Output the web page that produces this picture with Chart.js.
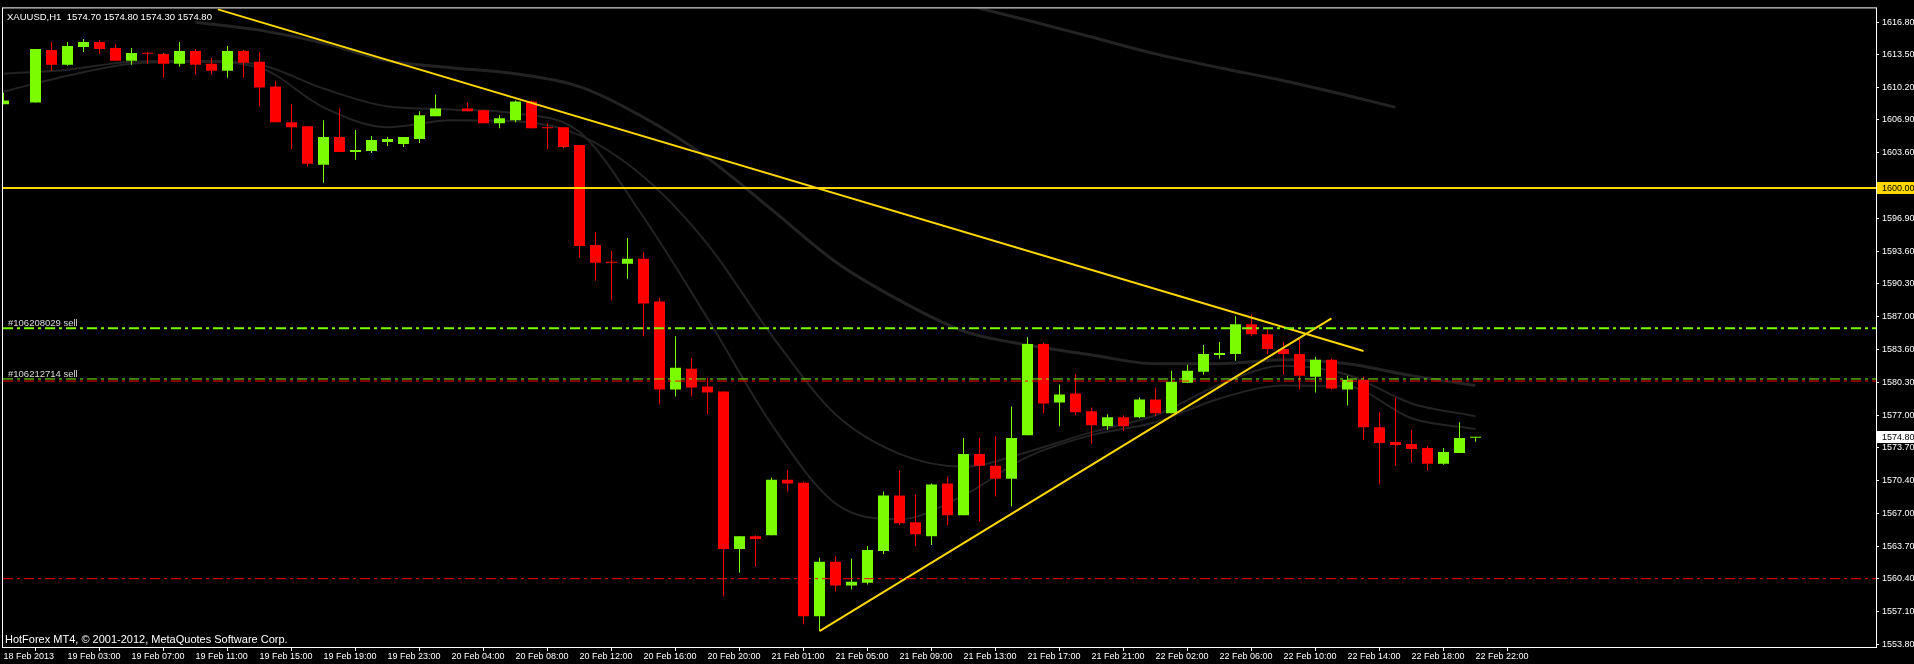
<!DOCTYPE html>
<html>
<head>
<meta charset="utf-8">
<title>XAUUSD,H1</title>
<script src="https://cdn.jsdelivr.net/npm/chart.js@4.4.1/dist/chart.umd.min.js"></script>
<style>
  html, body { margin: 0; padding: 0; background: #000; overflow: hidden; }
  #wrap { width: 1914px; height: 664px; }
</style>
</head>
<body>
<div id="wrap"><canvas id="goldChart"></canvas></div>
<script>
// XAUUSD hourly bars, oldest on the left
var symbol = 'XAUUSD';
var period = 'H1';

var opens = [1608.48,1608.70,1608.68,1613.99,1612.49,1614.29,1614.79,1614.19,1612.89,1613.69,
  1613.59,1612.59,1613.89,1612.59,1611.89,1613.89,1612.79,1610.28,1606.67,1606.27,
  1602.36,1605.17,1603.66,1603.76,1604.66,1604.46,1604.96,1607.27,1608.07,1608.07,
  1607.87,1606.57,1606.87,1608.78,1606.17,1606.17,1604.36,1594.23,1592.50,1592.33,
  1592.83,1588.52,1579.59,1581.70,1579.89,1579.39,1563.44,1564.74,1564.84,1570.46,
  1570.16,1556.62,1562.14,1559.73,1560.03,1563.24,1568.86,1566.15,1564.74,1570.06,
  1566.85,1573.07,1571.87,1570.56,1574.97,1584.20,1578.28,1579.19,1577.38,1575.88,
  1576.78,1576.78,1578.59,1577.18,1580.29,1581.39,1583.10,1583.20,1586.21,1585.20,
  1583.70,1583.20,1580.89,1582.60,1579.59,1580.59,1575.78,1574.27,1574.07,1573.67,
  1572.07,1573.17,1574.70];

var highs = [1609.65,1608.90,1614.09,1614.79,1614.79,1615.09,1614.99,1614.59,1614.19,1613.79,
  1613.69,1614.79,1614.09,1613.19,1614.39,1613.99,1613.79,1610.88,1608.48,1606.27,
  1606.87,1608.07,1605.87,1605.27,1605.17,1605.17,1607.77,1609.48,1608.30,1608.68,
  1607.97,1607.37,1608.88,1608.88,1606.57,1606.17,1604.36,1595.54,1593.63,1594.93,
  1593.53,1588.92,1585.00,1582.80,1580.79,1579.39,1564.74,1564.84,1570.66,1571.46,
  1570.26,1562.54,1562.74,1562.44,1563.74,1569.26,1571.36,1568.96,1570.06,1570.76,
  1574.67,1574.67,1574.87,1577.88,1584.90,1584.30,1580.09,1581.19,1577.78,1577.08,
  1576.98,1578.79,1579.79,1581.49,1582.10,1584.10,1584.40,1587.01,1587.21,1585.81,
  1584.40,1584.70,1582.90,1582.70,1580.99,1580.89,1577.28,1578.79,1575.48,1573.87,
  1573.67,1576.28,1574.80];

var lows = [1608.48,1608.50,1608.68,1611.89,1612.39,1613.79,1613.59,1612.89,1612.49,1612.59,
  1611.18,1612.29,1611.48,1611.48,1611.18,1611.18,1608.27,1606.67,1603.96,1602.16,
  1600.55,1603.66,1602.86,1603.56,1604.26,1604.16,1604.56,1607.27,1607.90,1607.77,
  1606.57,1606.07,1606.67,1606.07,1603.96,1604.06,1592.93,1590.62,1588.62,1590.82,
  1585.00,1578.08,1578.89,1578.89,1577.08,1558.63,1561.03,1561.63,1564.84,1569.26,
  1555.82,1555.12,1559.13,1559.33,1559.83,1562.94,1565.85,1563.74,1563.84,1565.85,
  1566.85,1566.25,1568.76,1567.75,1574.97,1577.18,1575.88,1576.98,1574.07,1575.48,
  1575.38,1576.68,1576.88,1577.18,1580.29,1581.09,1582.70,1582.50,1585.00,1583.20,
  1581.09,1579.59,1579.29,1579.59,1577.98,1574.47,1569.96,1571.87,1572.17,1571.36,
  1571.97,1573.17,1574.30];

var closes = [1608.88,1608.70,1614.09,1612.49,1614.39,1614.79,1614.09,1612.89,1613.69,1613.60,
  1612.59,1613.89,1612.49,1611.89,1613.89,1612.69,1610.18,1606.67,1606.17,1602.46,
  1605.17,1603.66,1603.86,1604.86,1604.96,1605.17,1607.37,1608.07,1608.07,1607.77,
  1606.57,1607.07,1608.78,1606.07,1606.07,1604.16,1594.13,1592.43,1592.43,1592.83,
  1588.31,1579.59,1581.80,1579.79,1579.29,1563.44,1564.74,1564.44,1570.46,1570.06,
  1556.62,1562.14,1559.73,1560.13,1563.34,1568.86,1566.05,1564.94,1569.96,1566.85,
  1573.07,1571.87,1570.56,1574.67,1584.20,1578.18,1579.09,1577.28,1575.98,1576.78,
  1575.88,1578.59,1577.18,1580.39,1581.49,1583.20,1583.30,1586.21,1585.20,1583.70,
  1583.20,1580.99,1582.60,1579.69,1580.59,1575.78,1574.17,1573.97,1573.57,1572.07,
  1573.27,1574.67,1574.80];

// time labels, one every 4 bars
var timeLabels = ['18 Feb 2013', '19 Feb 03:00', '19 Feb 07:00', '19 Feb 11:00', '19 Feb 15:00',
  '19 Feb 19:00', '19 Feb 23:00', '20 Feb 04:00', '20 Feb 08:00', '20 Feb 12:00', '20 Feb 16:00',
  '20 Feb 20:00', '21 Feb 01:00', '21 Feb 05:00', '21 Feb 09:00', '21 Feb 13:00', '21 Feb 17:00',
  '21 Feb 21:00', '22 Feb 02:00', '22 Feb 06:00', '22 Feb 10:00', '22 Feb 14:00', '22 Feb 18:00',
  '22 Feb 22:00'];

var priceTicks = [1616.8, 1613.5, 1610.2, 1606.9, 1603.6, 1596.9, 1593.6, 1590.3, 1587.0, 1583.6,
  1580.3, 1577.0, 1573.7, 1570.4, 1567.0, 1563.7, 1560.4, 1557.1, 1553.8];

// moving averages, read every 4th bar
var maBars = [0, 4, 8, 12, 16, 20, 24, 28, 32, 36, 40, 44, 48, 52, 56, 60, 64, 68, 72, 76, 80, 84, 88, 92];
var maFast = [1611.58, 1611.99, 1612.79, 1612.89, 1612.49, 1610.08, 1608.27, 1607.97, 1607.57, 1605.67,
  1597.04, 1586.81, 1576.08, 1568.05, 1566.45, 1568.86, 1572.77, 1574.97, 1576.28, 1578.69,
  1579.99, 1579.89, 1576.68, 1575.58];
var maMid = [1609.78, 1611.38, 1612.59, 1612.79, 1612.19, 1608.17, 1606.17, 1606.87, 1606.77, 1605.37,
  1601.15, 1594.33, 1585.11, 1577.08, 1573.07, 1571.77, 1573.27, 1575.28, 1576.98, 1580.09,
  1582.00, 1581.09, 1578.18, 1576.88];
var maSlow = [null, null, null, 1616.80, 1616.00, 1614.69, 1612.89, 1612.19, 1611.58, 1610.28,
  1607.17, 1603.06, 1597.84, 1592.53, 1588.62, 1585.51, 1584.10, 1583.10, 1582.20, 1582.20,
  1582.60, 1582.20, 1581.00, 1579.99];
var maLongBars = [60, 64, 68, 72, 76, 80, 84, 87];
var maLong = [1618.61, 1617.00, 1615.30, 1613.59, 1612.19, 1610.88, 1609.38, 1608.17];

// drawn objects: trend lines [bar, price], horizontal levels
var downTrendBars = [13.4, 85.0];
var downTrendPrices = [1618.10, 1583.50];
var upTrendBars = [51.0, 83.0];
var upTrendPrices = [1555.12, 1586.81];
var roundLevel = 1600.00;
var orderNames = ['#106208029 sell', '#106212714 sell'];
var orderPrices = [1585.81, 1580.66];
var redLevels = [1580.45, 1560.43];

var BULL = '#7CFC00';
var BEAR = '#FF0000';
var GOLD = '#FFD700';
var MA_GREY = '#232323';
var FONT = '"Liberation Sans", Arial, sans-serif';

var xMin = -0.03125, xMax = 117.03125;

var bars = opens.map(function(_, i) { return i; });
var colours = bars.map(function(i) {
  if (closes[i] > opens[i]) return BULL;
  if (closes[i] < opens[i]) return BEAR;
  return 'rgba(0,0,0,0)'; // flat bar, line graph colour is none
});

function maLine(xs, values, width) {
  return {
    type: 'line',
    data: xs.map(function(b, j) { return { x: b, y: values[j] }; }),
    borderColor: MA_GREY,
    borderWidth: width,
    pointRadius: 0,
    cubicInterpolationMode: 'monotone',
    spanGaps: false,
    order: 3
  };
}

function levelLine(price, colour, width, dash) {
  return {
    type: 'line',
    data: [{ x: xMin, y: price }, { x: xMax, y: price }],
    borderColor: colour,
    borderWidth: width,
    borderDash: dash,
    pointRadius: 0,
    order: 0
  };
}

function trendLine(xs, prices) {
  return {
    type: 'line',
    data: xs.map(function(b, j) { return { x: b, y: prices[j] }; }),
    borderColor: GOLD,
    borderWidth: 2,
    pointRadius: 0,
    order: 0
  };
}

var datasets = [
  {
    type: 'bar',
    data: bars.map(function(i) { return { x: i, y: [lows[i], highs[i]] }; }),
    backgroundColor: colours,
    barThickness: 1,
    grouped: false,
    inflateAmount: 0,
    minBarLength: 1,
    order: 2
  },
  {
    type: 'bar',
    data: bars.map(function(i) { return { x: i, y: [opens[i], closes[i]] }; }),
    backgroundColor: colours,
    barThickness: 11,
    grouped: false,
    inflateAmount: 0,
    minBarLength: 1,
    order: 1
  },
  maLine(maBars, maFast, 2),
  maLine(maBars, maMid, 2),
  maLine(maBars, maSlow, 3),
  maLine(maLongBars, maLong, 3),
  levelLine(roundLevel, GOLD, 2, []),
  levelLine(orderPrices[0], BULL, 2, [10, 4, 3, 4]),
  levelLine(orderPrices[1], BULL, 1, [10, 4, 3, 4]),
  levelLine(redLevels[0], BEAR, 1, [10, 4, 3, 4]),
  levelLine(redLevels[1], BEAR, 1, [10, 4, 3, 4]),
  trendLine(downTrendBars, downTrendPrices),
  trendLine(upTrendBars, upTrendPrices)
];

// frame, captions and price tags like the terminal draws them
var terminalOverlay = {
  id: 'terminalOverlay',
  afterDraw: function(chart) {
    var ctx = chart.ctx;
    var a = chart.chartArea;
    var ys = chart.scales.y;
    var last = closes.length - 1;
    ctx.save();

    ctx.strokeStyle = '#ffffff';
    ctx.lineWidth = 1;
    ctx.strokeRect(a.left - 0.5, a.top - 0.5, a.right - a.left + 1, a.bottom - a.top + 1);

    ctx.textAlign = 'left';
    ctx.textBaseline = 'alphabetic';
    ctx.fillStyle = '#ffffff';
    ctx.font = '9.5px ' + FONT;
    var title = symbol + ',' + period + '  ' + opens[last].toFixed(2) + ' ' + highs[last].toFixed(2) +
      ' ' + lows[last].toFixed(2) + ' ' + closes[last].toFixed(2);
    ctx.fillText(title, a.left + 4, a.top + 12);

    ctx.fillStyle = '#dcdcdc';
    orderNames.forEach(function(name, j) {
      ctx.fillText(name, a.left + 5, ys.getPixelForValue(orderPrices[j]) - 2);
    });

    ctx.fillStyle = '#ffffff';
    ctx.font = '11px ' + FONT;
    ctx.fillText('HotForex MT4, \u00a9 2001-2012, MetaQuotes Software Corp.', a.left + 2, a.bottom - 4);

    // price tags on the axis
    ctx.font = '9px ' + FONT;
    ctx.textBaseline = 'middle';
    var tags = [[roundLevel, GOLD], [closes[last], '#ffffff']];
    tags.forEach(function(t) {
      var y = Math.round(ys.getPixelForValue(t[0]));
      ctx.fillStyle = t[1];
      ctx.fillRect(a.right + 1, y - 6, chart.width - a.right - 1, 12);
      ctx.fillStyle = '#000000';
      ctx.fillText(t[0].toFixed(2), a.right + 6, y + 0.5);
    });
    ctx.restore();
  }
};

new Chart(document.getElementById('goldChart').getContext('2d'), {
  type: 'bar',
  data: { datasets: datasets },
  options: {
    responsive: true,
    maintainAspectRatio: false,
    animation: false,
    events: [],
    layout: { padding: { left: 3, top: 2, right: 0, bottom: 0 } },
    plugins: {
      legend: { display: false },
      tooltip: { enabled: false }
    },
    scales: {
      x: {
        type: 'linear',
        min: xMin,
        max: xMax,
        offset: false,
        grid: { drawOnChartArea: false, drawTicks: true, tickLength: 4, color: '#ffffff' },
        border: { display: false },
        ticks: {
          color: '#ffffff',
          font: { family: FONT, size: 9 },
          align: 'start',
          padding: 0,
          maxRotation: 0,
          autoSkip: false,
          callback: function(value, index) { return timeLabels[index]; }
        },
        afterBuildTicks: function(scale) {
          scale.ticks = timeLabels.map(function(_, i) { return { value: i * 4 }; });
        },
        afterFit: function(scale) { scale.height = 17; }
      },
      y: {
        position: 'right',
        min: 1553.51,
        max: 1618.2,
        grid: { drawOnChartArea: false, drawTicks: true, tickLength: 3, color: '#ffffff' },
        border: { display: false },
        ticks: {
          color: '#ffffff',
          font: { family: FONT, size: 9 },
          padding: 3,
          autoSkip: false,
          callback: function(value) { return value.toFixed(2); }
        },
        afterBuildTicks: function(scale) {
          scale.ticks = priceTicks.map(function(v) { return { value: v }; });
        },
        afterFit: function(scale) { scale.width = 38; }
      }
    }
  },
  plugins: [terminalOverlay]
});
</script>
</body>
</html>
